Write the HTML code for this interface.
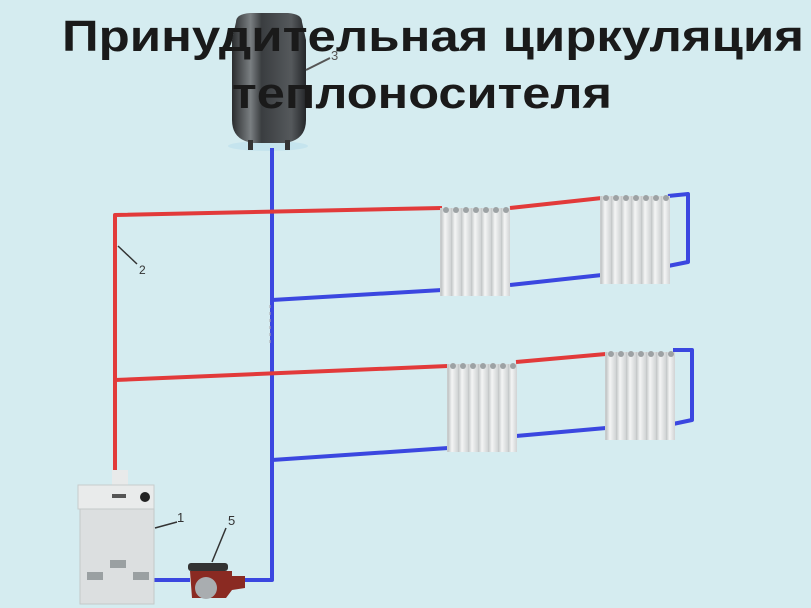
<!DOCTYPE html>
<html><head><meta charset="utf-8"><style>
html,body{margin:0;padding:0;background:#d5ecf0;}
svg{display:block}
</style></head><body>
<svg width="811" height="608" viewBox="0 0 811 608" xmlns="http://www.w3.org/2000/svg">
<defs>
<linearGradient id="tank" x1="0" x2="1">
<stop offset="0" stop-color="#2a2c2e"/><stop offset="0.25" stop-color="#7a7f82"/><stop offset="0.4" stop-color="#3a3d40"/><stop offset="0.8" stop-color="#55595c"/><stop offset="1" stop-color="#25272a"/>
</linearGradient>
<linearGradient id="fin" x1="0" x2="1">
<stop offset="0" stop-color="#bfc3c4"/><stop offset="0.4" stop-color="#f4f5f5"/><stop offset="1" stop-color="#d0d3d4"/>
</linearGradient>
<g id="rad">
<rect x="0" y="4" width="70" height="88" fill="#c8cccd"/>
<rect x="1" y="4" width="10" height="88" fill="url(#fin)"/>
<rect x="11" y="4" width="10" height="88" fill="url(#fin)"/>
<rect x="21" y="4" width="10" height="88" fill="url(#fin)"/>
<rect x="31" y="4" width="10" height="88" fill="url(#fin)"/>
<rect x="41" y="4" width="10" height="88" fill="url(#fin)"/>
<rect x="51" y="4" width="10" height="88" fill="url(#fin)"/>
<rect x="61" y="4" width="9" height="88" fill="url(#fin)"/>
<g fill="#9da2a4"><circle cx="6" cy="6" r="3"/><circle cx="16" cy="6" r="3"/><circle cx="26" cy="6" r="3"/><circle cx="36" cy="6" r="3"/><circle cx="46" cy="6" r="3"/><circle cx="56" cy="6" r="3"/><circle cx="66" cy="6" r="3"/></g>
</g>
</defs>
<rect width="811" height="608" fill="#d5ecf0"/>

<ellipse cx="268" cy="146" rx="40" ry="5" fill="#c5e4ee"/>
<path d="M236 22 Q236 14 250 13 L288 13 Q302 14 302 22 L306 40 L306 120 Q306 140 285 143 L253 143 Q232 140 232 120 L232 40 Z" fill="url(#tank)"/>
<rect x="248" y="140" width="5" height="10" fill="#333"/><rect x="285" y="140" width="5" height="10" fill="#333"/>
<line x1="306" y1="70" x2="330" y2="58" stroke="#555" stroke-width="2"/>
<text x="331" y="60" font-family="Liberation Sans, sans-serif" font-size="13" fill="#555">3</text>

<g fill="none" stroke="#3b47e0" stroke-width="4" stroke-linejoin="round">
<path d="M272 148 L272 580 L240 580"/>
<path d="M190 580 L152 580"/>
<path d="M272 300 L442 290"/>
<path d="M510 285 L602 275"/>
<path d="M668 196 L688 194 L688 262 L668 266"/>
<path d="M272 460 L448 448"/>
<path d="M516 436 L606 428"/>
<path d="M673 350 L692 350 L692 420 L673 424"/>
</g>
<g fill="none" stroke="#e23a3a" stroke-width="4" stroke-linejoin="round">
<path d="M115 470 L115 215 L442 208"/>
<path d="M510 208 L602 198"/>
<path d="M115 380 L448 366"/>
<path d="M516 362 L606 354"/>
</g>
<line x1="118" y1="246" x2="137" y2="264" stroke="#333" stroke-width="1.5"/>
<text x="139" y="274" font-family="Liberation Sans, sans-serif" font-size="12" fill="#333">2</text>
<line x1="270" y1="305" x2="270" y2="345" stroke="#aaa" stroke-width="1" stroke-dasharray="3,4"/>

<use href="#rad" x="440" y="204"/>
<use href="#rad" x="600" y="192"/>
<use href="#rad" x="447" y="360"/>
<use href="#rad" x="605" y="348"/>

<rect x="112" y="470" width="16" height="16" fill="#e8eaea"/>
<rect x="78" y="485" width="76" height="24" fill="#e9ebeb" stroke="#c8cccc"/>
<circle cx="145" cy="497" r="5" fill="#222"/>
<rect x="112" y="494" width="14" height="4" fill="#555"/>
<rect x="80" y="509" width="74" height="95" fill="#dcdfe0" stroke="#c4c8c8"/>
<rect x="110" y="560" width="16" height="8" fill="#9aa0a2"/>
<rect x="87" y="572" width="16" height="8" fill="#9aa0a2"/>
<rect x="133" y="572" width="16" height="8" fill="#9aa0a2"/>
<line x1="155" y1="528" x2="177" y2="522" stroke="#333" stroke-width="1.5"/>
<text x="177" y="522" font-family="Liberation Sans, sans-serif" font-size="13" fill="#333">1</text>

<rect x="188" y="563" width="40" height="8" rx="3" fill="#333"/>
<path d="M190 571 L232 571 L232 576 L245 576 L245 588 L232 590 L226 598 L192 598 Z" fill="#8a2a22"/>
<circle cx="206" cy="588" r="11" fill="#a9adb0"/>
<line x1="212" y1="562" x2="226" y2="528" stroke="#333" stroke-width="1.5"/>
<text x="228" y="525" font-family="Liberation Sans, sans-serif" font-size="13" fill="#333">5</text>

<text x="433" y="51" text-anchor="middle" textLength="742" lengthAdjust="spacingAndGlyphs" font-family="Liberation Sans, sans-serif" font-weight="bold" font-size="44" fill="#1a1a1a">Принудительная циркуляция</text>
<text x="422" y="108" text-anchor="middle" textLength="380" lengthAdjust="spacingAndGlyphs" font-family="Liberation Sans, sans-serif" font-weight="bold" font-size="44" fill="#1a1a1a">теплоносителя</text>
</svg>
</body></html>
